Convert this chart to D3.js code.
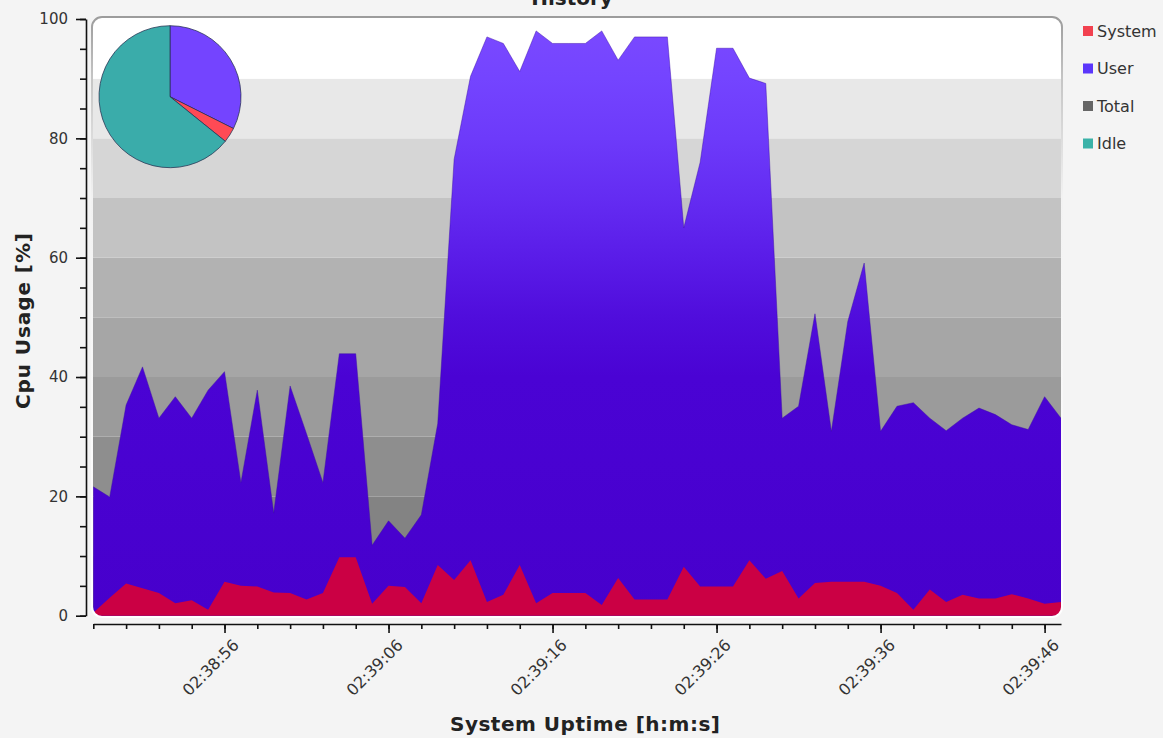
<!DOCTYPE html>
<html>
<head>
<meta charset="utf-8">
<script src="https://cdn.jsdelivr.net/npm/d3@7"></script>
<style>
    html, body { margin: 0; padding: 0; background: #f4f4f4; }
    svg { display: block; font-family: "DejaVu Sans", sans-serif; }
</style>
</head>
<body>
<svg id="chart" width="1163" height="738"></svg>
<script>
// 샘플 1초 간격, 02:38:48 부터 60개
var START_TIME = '02:38:48';

var systemValues = [
    0.5, 3.0, 5.4, 4.6, 3.8, 2.1, 2.6, 1.0, 5.7, 5.0,
    4.9, 3.9, 3.8, 2.7, 3.8, 9.8, 9.8, 2.0, 5.0, 4.8,
    2.1, 8.5, 6.0, 9.3, 2.3, 3.5, 8.5, 2.1, 3.8, 3.8,
    3.8, 1.8, 6.3, 2.7, 2.7, 2.7, 8.2, 4.9, 4.9, 4.9,
    9.3, 6.2, 7.5, 2.9, 5.5, 5.7, 5.7, 5.7, 5.0, 3.8,
    1.0, 4.4, 2.3, 3.5, 2.9, 2.9, 3.6, 2.9, 2.0, 2.3
];

var userValues = [
    21.6, 19.9, 35.3, 41.7, 33.1, 36.7, 33.1, 37.8, 40.9, 22.3,
    37.8, 17.2, 38.5, 30.5, 22.3, 43.9, 43.9, 11.8, 15.9, 13.0,
    16.9, 32.2, 76.5, 90.4, 97.0, 95.9, 91.2, 98.0, 95.9, 95.9,
    95.9, 98.0, 93.1, 97.0, 97.0, 97.0, 65.0, 76.0, 95.1, 95.1,
    90.1, 89.2, 33.1, 35.1, 50.6, 30.9, 49.3, 59.1, 30.9, 35.1,
    35.7, 33.1, 31.0, 33.1, 34.8, 33.7, 32.0, 31.2, 36.7, 33.1
];

var pieLabels = ['User', 'System', 'Idle'];
var pieValues = [32.4, 3.4, 64.2];

var legendLabels = ['System', 'User', 'Total', 'Idle'];
var legendColors = ['#f2414f', '#5b36fb', '#666666', '#3ab2a8'];

var majorTimes = ['02:38:56', '02:39:06', '02:39:16', '02:39:26', '02:39:36', '02:39:46'];
var yMajorTicks = [0, 20, 40, 60, 80, 100];

(function () {
    var svg = d3.select('#chart');

    var plot = { left: 92, right: 1062, top: 17, bottom: 617, r: 10 };

    var parse = d3.timeParse('%H:%M:%S');
    var t0 = parse(START_TIME);
    var times = userValues.map(function (d, i) { return d3.timeSecond.offset(t0, i); });

    var x = d3.scaleTime()
        .domain([times[0], times[times.length - 1]])
        .range([93.3, 1061]);
    var y = d3.scaleLinear().domain([0, 100]).range([615.7, 19]);

    var defs = svg.append('defs');
    defs.append('clipPath').attr('id', 'plotClip')
        .append('rect')
        .attr('x', plot.left).attr('y', plot.top)
        .attr('width', plot.right - plot.left).attr('height', plot.bottom - plot.top)
        .attr('rx', plot.r).attr('ry', plot.r);

    // 보라색 영역: 위쪽은 밝게, 아래는 진하게
    var ug = defs.append('linearGradient').attr('id', 'userGrad')
        .attr('gradientUnits', 'userSpaceOnUse')
        .attr('x1', 0).attr('x2', 0).attr('y1', y(100)).attr('y2', y(0));
    [[0, '#7b4aff'], [0.1, '#7444ff'], [0.2, '#6d3afa'], [0.3, '#642cf2'],
     [0.4, '#5a1ce8'], [0.5, '#500ddc'], [0.6, '#4a03d4'], [1, '#4700cc']].forEach(function (s) {
        ug.append('stop').attr('offset', s[0]).attr('stop-color', s[1]);
    });

    var bg = defs.append('linearGradient').attr('id', 'borderGrad')
        .attr('x1', 0).attr('x2', 0).attr('y1', 0).attr('y2', 1);
    [[0, '#9c9c9c'], [0.1, '#c4c4c4'], [0.3, '#f2f2f2'], [1, '#ffffff']].forEach(function (s) {
        bg.append('stop').attr('offset', s[0]).attr('stop-color', s[1]);
    });

    // 배경 밴드 (아래로 갈수록 어두움)
    var bandColors = ['#777777', '#838383', '#8e8e8e', '#9b9b9b', '#a6a6a6',
                      '#b2b2b2', '#c3c3c3', '#d6d6d6', '#e8e8e8', '#ffffff'];
    var gPlot = svg.append('g').attr('clip-path', 'url(#plotClip)');
    gPlot.append('rect')
        .attr('x', plot.left).attr('y', plot.top)
        .attr('width', plot.right - plot.left).attr('height', plot.bottom - plot.top)
        .attr('fill', '#ffffff');
    gPlot.selectAll('rect.band').data(d3.range(0, 100, 10)).join('rect')
        .attr('class', 'band')
        .attr('x', plot.left)
        .attr('width', plot.right - plot.left)
        .attr('y', function (v) { return v === 90 ? plot.top : y(v + 10); })
        .attr('height', function (v) {
            var top = v === 90 ? plot.top : y(v + 10);
            var bot = v === 0 ? plot.bottom : y(v);
            return bot - top;
        })
        .attr('fill', function (v, i) { return bandColors[i]; });

    var area = d3.area()
        .x(function (d, i) { return x(times[i]); })
        .y0(y(0))
        .y1(function (d) { return y(d); });

    gPlot.append('path')
        .datum(userValues)
        .attr('d', area)
        .attr('fill', 'url(#userGrad)');
    gPlot.append('path')
        .datum(userValues)
        .attr('d', d3.line().x(function (d, i) { return x(times[i]); }).y(function (d) { return y(d); }))
        .attr('fill', 'none')
        .attr('stroke', '#3a0aa8')
        .attr('stroke-opacity', 0.45)
        .attr('stroke-width', 1);

    gPlot.append('path')
        .datum(systemValues)
        .attr('d', area)
        .attr('fill', '#cb0044');

    svg.append('rect')
        .attr('x', plot.left).attr('y', plot.top)
        .attr('width', plot.right - plot.left).attr('height', plot.bottom - plot.top)
        .attr('rx', plot.r).attr('ry', plot.r)
        .attr('fill', 'none')
        .attr('stroke', 'url(#borderGrad)')
        .attr('stroke-width', 2);

    // 파이 (좌상단)
    var pieColors = ['#7444ff', '#ff4a55', '#3aacaa'];
    var arcs = d3.pie().sort(null)(pieValues);
    var arc = d3.arc().innerRadius(0).outerRadius(71);
    svg.append('g')
        .attr('transform', 'translate(170,96.7)')
        .selectAll('path').data(arcs).join('path')
        .attr('d', arc)
        .attr('fill', function (d, i) { return pieColors[i]; })
        .attr('stroke', '#263050')
        .attr('stroke-opacity', 0.75)
        .attr('stroke-width', 1);

    // Y 축
    var yMinor = svg.append('g').attr('transform', 'translate(86,0)')
        .call(d3.axisLeft(y).tickValues(d3.range(0, 101, 5)).tickSize(6).tickSizeOuter(0).tickFormat(''));
    var yMajor = svg.append('g').attr('transform', 'translate(86,0)')
        .call(d3.axisLeft(y).tickValues(yMajorTicks).tickSize(10).tickSizeOuter(0).tickPadding(8));
    yMajor.select('.domain').remove();
    [yMinor, yMajor].forEach(function (g) {
        g.selectAll('line').attr('stroke', '#111').attr('stroke-width', 1.6);
        g.selectAll('.domain').attr('stroke', '#111').attr('stroke-width', 1.6);
    });
    yMajor.selectAll('text')
        .attr('font-size', 15)
        .attr('fill', '#333')
        .attr('font-family', '"DejaVu Sans", sans-serif');

    // X 축
    var xMinor = svg.append('g').attr('transform', 'translate(0,624)')
        .call(d3.axisBottom(x).ticks(d3.timeSecond.every(2)).tickSize(5).tickSizeOuter(0).tickFormat(''));
    var xMajor = svg.append('g').attr('transform', 'translate(0,624)')
        .call(d3.axisBottom(x).tickValues(majorTimes.map(parse)).tickSize(9).tickSizeOuter(0)
            .tickFormat(d3.timeFormat('%H:%M:%S')));
    xMajor.select('.domain').remove();
    [xMinor, xMajor].forEach(function (g) {
        g.selectAll('line').attr('stroke', '#111').attr('stroke-width', 1.6);
        g.selectAll('.domain').attr('stroke', '#111').attr('stroke-width', 1.6);
    });
    xMajor.selectAll('text')
        .attr('font-size', 16)
        .attr('fill', '#333')
        .attr('font-family', '"DejaVu Sans", sans-serif')
        .attr('text-anchor', 'end')
        .attr('y', 0).attr('dy', 0)
        .attr('transform', 'translate(15,22) rotate(-45)');

    // 축 제목
    svg.append('text')
        .attr('x', 585).attr('y', 731)
        .attr('text-anchor', 'middle')
        .attr('font-size', 20).attr('font-weight', 'bold')
        .attr('fill', '#222')
        .attr('textLength', 270)
        .text('System Uptime [h:m:s]');
    svg.append('text')
        .attr('transform', 'translate(30,321) rotate(-90)')
        .attr('text-anchor', 'middle')
        .attr('font-size', 20).attr('font-weight', 'bold')
        .attr('fill', '#222')
        .attr('textLength', 176)
        .text('Cpu Usage [%]');

    // 제목 (원본처럼 위쪽이 잘려 있음)
    svg.append('text')
        .attr('x', 572).attr('y', 5)
        .attr('text-anchor', 'middle')
        .attr('font-size', 20).attr('font-weight', 'bold')
        .attr('fill', '#222')
        .text('History');

    // 범례
    var lg = svg.append('g').selectAll('g').data(legendLabels).join('g')
        .attr('transform', function (d, i) { return 'translate(1083,' + (31 + i * 37.5) + ')'; });
    lg.append('rect')
        .attr('x', 0).attr('y', -5).attr('width', 10).attr('height', 10)
        .attr('fill', function (d, i) { return legendColors[i]; });
    lg.append('text')
        .attr('x', 14).attr('dy', '0.36em')
        .attr('font-size', 16)
        .attr('fill', '#333')
        .text(function (d) { return d; });
})();
</script>
</body>
</html>
